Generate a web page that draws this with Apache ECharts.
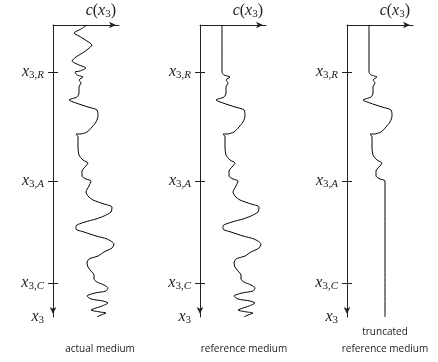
<!DOCTYPE html>
<html>
<head>
  <meta charset="utf-8" />
  <title>c(x3) media</title>
  <style>
    html, body { margin: 0; padding: 0; background: #fff; }
    #main { width: 438px; height: 362px; }
  </style>
</head>
<body>
  <div id="main"></div>
  <script src="https://cdn.jsdelivr.net/npm/echarts@6/dist/echarts.min.js"></script>
  <script>
    // depth axis runs 0 (top) .. depthMax (bottom), c axis 0 .. cMax
    var depthMax = 292;
    var cMax = 66;
    var levelValues = [47, 156, 258];      // x3,R  x3,A  x3,C
    var levelNames = ['R', 'A', 'C'];
    var panelTitles = ['actual medium', 'reference medium', 'truncated\nreference medium'];

    // [c, depth] pairs, actual medium above x3,R
    var actualTop = [
      [34, 0], [28, 4], [21, 8], [26, 11], [34, 16], [39, 20], [35, 24], [31, 27],
      [23, 32], [19, 36], [26, 40], [33, 43], [27, 46]
    ];
    // common part below x3,R
    var lowerCurve = [
      [22, 47], [24, 50], [30, 52], [26, 55], [28, 58], [26, 62], [26, 68], [24, 72],
      [16, 75], [23, 78], [35, 82], [44, 85], [45, 91], [43, 97], [39, 102], [34, 107],
      [27, 109], [23, 109], [25, 112], [25, 121], [26, 130], [30, 135], [35, 138], [32, 142],
      [29, 146], [29, 151], [33, 154], [38, 156],
      [36, 161], [33, 167], [35, 171], [40, 175], [51, 179], [59, 182], [58, 187], [51, 191],
      [43, 194], [32, 197], [23, 201], [23, 204], [31, 207], [43, 211], [54, 214], [61, 219],
      [59, 223], [51, 227], [45, 231], [36, 234], [34, 238], [35, 242], [38, 246], [41, 250],
      [41, 254], [44, 257], [51, 260], [55, 263], [53, 266], [42, 268], [34, 271], [38, 274],
      [50, 276], [55, 278], [49, 281], [43, 283], [38, 285], [47, 287], [53, 288], [48, 290],
      [44, 292]
    ];
    var refTop = [[22, 0]];
    var truncDepth = 156;
    var truncTail = [[38, 292]];

    var actualCurve = actualTop.concat(lowerCurve);
    var refCurve = refTop.concat(lowerCurve);
    var truncCurve = refTop.concat(lowerCurve.filter(function (p) {
      return p[1] <= truncDepth;
    })).concat(truncTail);

    var chart = echarts.init(document.getElementById('main'));
    var axisColor = '#222';
    var serif = 'Times New Roman';
    var mathRich = {
      i: { fontFamily: serif, fontStyle: 'italic', fontSize: 16, lineHeight: 18, color: axisColor },
      u: { fontFamily: serif, fontStyle: 'normal', fontSize: 16, lineHeight: 18, color: axisColor },
      s: { fontFamily: serif, fontStyle: 'normal', fontSize: 11, lineHeight: 8, verticalAlign: 'bottom', color: axisColor },
      si: { fontFamily: serif, fontStyle: 'italic', fontSize: 11, lineHeight: 8, verticalAlign: 'bottom', color: axisColor }
    };

    var panelLeft = [53, 200, 347];
    var curves = [actualCurve, refCurve, truncCurve];
    var grids = [], xAxes = [], yAxes = [], series = [], titles = [];

    panelLeft.forEach(function (left, i) {
      grids.push({ left: left, top: 25, width: cMax, height: depthMax });
      xAxes.push({
        type: 'value',
        gridIndex: i,
        position: 'top',
        min: 0,
        max: cMax,
        name: '{i|c}{u|(}{i|x}{s|3}{u|)}',
        nameLocation: 'end',
        nameGap: -3,
        nameTextStyle: {
          fontFamily: serif, fontSize: 16,
          align: 'right', verticalAlign: 'bottom', padding: [0, 0, 5, 0], rich: mathRich
        },
        axisLine: {
          show: true, onZero: false,
          symbol: ['none', 'arrow'], symbolSize: [5, 7], symbolOffset: [0, -3],
          lineStyle: { color: axisColor, width: 1 }
        },
        axisTick: { show: false },
        axisLabel: { show: false },
        splitLine: { show: false }
      });
      yAxes.push({
        type: 'value',
        gridIndex: i,
        position: 'left',
        inverse: true,
        min: 0,
        max: depthMax,
        axisLine: {
          show: true, onZero: false,
          symbol: ['arrow', 'none'], symbolSize: [5, 7], symbolOffset: [3, 0],
          lineStyle: { color: axisColor, width: 1 }
        },
        axisTick: { show: true, customValues: levelValues, length: 5, lineStyle: { color: axisColor, width: 1 } },
        axisLabel: {
          show: true,
          customValues: levelValues.concat([depthMax]),
          margin: 9,
          fontFamily: serif,
          fontSize: 16,
          rich: mathRich,
          formatter: function (v) {
            var k = levelValues.indexOf(v);
            if (k < 0) return '{i|x}{s|3}';
            return '{i|x}{s|3,}{si|' + levelNames[k] + '}';
          }
        },
        splitLine: { show: false }
      });
      // inner half of the tick marks
      yAxes.push({
        type: 'value',
        gridIndex: i,
        position: 'left',
        inverse: true,
        min: 0,
        max: depthMax,
        axisLine: { show: false, onZero: false },
        axisTick: { show: true, inside: true, customValues: levelValues, length: 5, lineStyle: { color: axisColor, width: 1 } },
        axisLabel: { show: false },
        splitLine: { show: false }
      });
      series.push({
        type: 'line',
        xAxisIndex: i,
        yAxisIndex: 2 * i,
        data: curves[i],
        symbol: 'none',
        smooth: 0.25,
        lineStyle: { color: '#000', width: 1 }
      });
    });

    var titleCenters = [100, 244, 385];
    titleCenters.forEach(function (cx, i) {
      var twoLines = panelTitles[i].indexOf('\n') >= 0;
      titles.push({
        text: panelTitles[i],
        left: cx,
        top: twoLines ? 324 : 341,
        padding: 0,
        textAlign: 'center',
        textStyle: { fontFamily: 'Open Sans', fontSize: 10, fontWeight: 'normal', color: '#222', lineHeight: 17 }
      });
    });

    chart.setOption({
      animation: false,
      backgroundColor: '#fff',
      title: titles,
      grid: grids,
      xAxis: xAxes,
      yAxis: yAxes,
      series: series
    });
  </script>
</body>
</html>
